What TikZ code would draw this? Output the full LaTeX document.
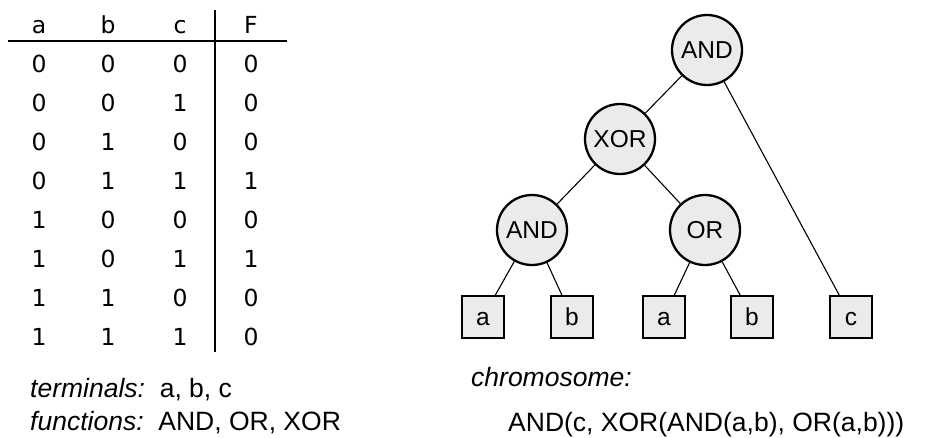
\documentclass[tikz,border=0pt]{standalone}
\usepackage{fontspec}
\setmainfont{Liberation Sans}
\newfontfamily\tablefont{DejaVu Sans}
\usetikzlibrary{positioning}
\definecolor{nodegray}{HTML}{EBEBEB}
\tikzset{
    cell/.style={font=\tablefont\fontsize{23.5}{28}\selectfont,inner sep=0pt,anchor=base},
    func/.style={circle,draw,line width=2.3pt,fill=nodegray,minimum size=70pt,inner sep=0pt,
                 font=\fontsize{24.5}{29}\selectfont},
    term/.style={rectangle,draw,line width=1.3pt,fill=nodegray,minimum size=42pt,inner sep=0pt,
                 text height=17pt,text depth=0pt,font=\fontsize{24.5}{29}\selectfont},
    note/.style={anchor=base west,inner sep=0pt,font=\fontsize{26.5}{31}\selectfont}
}
\begin{document}
\begin{tikzpicture}[x=1pt,y=-1pt]
\useasboundingbox (0,0) rectangle (929,437);
% truth table
\begin{scope}[every node/.style={cell}]
    \node (ha) at (39,33) {a};
    \node (hb) at (108,33) {b};
    \node (hc) at (180,33) {c};
    \node (hF) at (251,33) {F};
    \foreach \va/\vb/\vc/\vF [count=\i] in {0/0/0/0,0/0/1/0,0/1/0/0,0/1/1/1,1/0/0/0,1/0/1/1,1/1/0/0,1/1/1/0}{
        \node (a\i) at (39,{72+39.1*(\i-1)}) {\va};
        \node (b\i) at (108,{72+39.1*(\i-1)}) {\vb};
        \node (c\i) at (180,{72+39.1*(\i-1)}) {\vc};
        \node (F\i) at (251,{72+39.1*(\i-1)}) {\vF};
    }
\end{scope}
\draw [line width=2.2pt] (8,41) -- (287,41);
\draw [line width=1.6pt] (215,10) -- (215,352);
% tree
\begin{scope}[every node/.style={func}]
    \node (root) at (707,50) {AND};
    \node (xor) at (620,139) {XOR};
    \node (and) at (532,230) {AND};
    \node (or) at (705,230) {OR};
\end{scope}
\begin{scope}[every node/.style={term}]
    \node (ta1) at (483,317) {a};
    \node (tb1) at (572,317) {b};
    \node (ta2) at (664,317) {a};
    \node (tb2) at (752,317) {b};
    \node (tc) at (851,317) {c};
\end{scope}
\begin{scope}[every edge/.style={draw=black,line width=1.1pt}]
    \path [-] (root) edge (xor);
    \path [-] (root) edge (tc);
    \path [-] (xor) edge (and);
    \path [-] (xor) edge (or);
    \path [-] (and) edge (ta1);
    \path [-] (and) edge (tb1);
    \path [-] (or) edge (ta2);
    \path [-] (or) edge (tb2);
\end{scope}
% notes
\node[note] (terms) at (30,397) {\textit{terminals:}\ \ a, b, c};
\node[note] (funcs) at (30,430) {\textit{functions:}\ \ AND, OR, XOR};
\node[note] (chrom) at (471,386) {\textit{chromosome:}};
\node[note] (expr) at (508,431) {AND(c, XOR(AND(a,b), OR(a,b)))};
\end{tikzpicture}
\end{document}
